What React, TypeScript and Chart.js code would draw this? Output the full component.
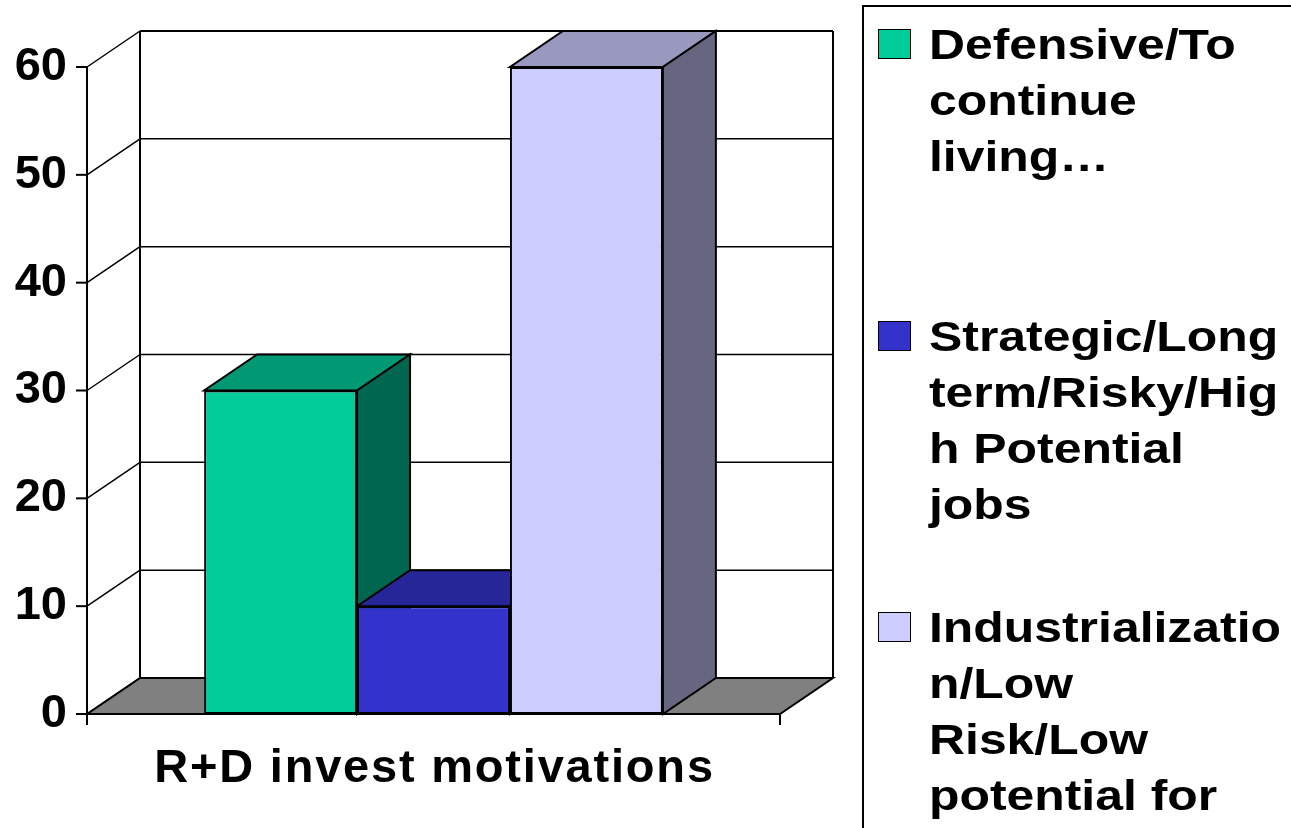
import React, { useEffect, useRef } from "react";
import { Chart, registerables } from "chart.js";

Chart.register(...registerables);

const categories = ["R+D invest motivations"];
const seriesNames = [
  "Defensive/To continue living…",
  "Strategic/Long term/Risky/High Potential jobs",
  "Industrialization/Low Risk/Low potential for",
];
const defensiveValues = [30];
const strategicValues = [10];
const industrialValues = [60];
const yTickValues = [0, 10, 20, 30, 40, 50, 60];

const legendLines = [
  ["Defensive/To", "continue", "living…"],
  ["Strategic/Long", "term/Risky/Hig", "h Potential", "jobs"],
  ["Industrializatio", "n/Low", "Risk/Low", "potential for"],
];

const frontColors = ["#00CC99", "#3333CC", "#CCCCFF"];
const topColors = ["#009973", "#262699", "#9999BF"];
const sideColors = ["#006650", "#1A1A66", "#666680"];

const FONT = '"Liberation Sans", Arial, Helvetica, sans-serif';
const DX = 53;
const DY = 36;

function poly(ctx: CanvasRenderingContext2D, pts: number[][], fill: string | null, lw: number) {
  ctx.beginPath();
  ctx.moveTo(pts[0][0], pts[0][1]);
  for (let i = 1; i < pts.length; i++) ctx.lineTo(pts[i][0], pts[i][1]);
  ctx.closePath();
  if (fill) {
    ctx.fillStyle = fill;
    ctx.fill();
  }
  ctx.lineWidth = lw;
  ctx.strokeStyle = "#000";
  ctx.stroke();
}

function line(ctx: CanvasRenderingContext2D, x1: number, y1: number, x2: number, y2: number, lw: number) {
  ctx.beginPath();
  ctx.moveTo(x1, y1);
  ctx.lineTo(x2, y2);
  ctx.lineWidth = lw;
  ctx.strokeStyle = "#000";
  ctx.stroke();
}

const threeDPlugin = {
  id: "threeD",
  beforeDatasetsDraw(chart: any) {
    const { ctx, chartArea: ca, scales } = chart;
    const ys = scales.y;
    const L = ca.left;
    const R = ca.right;
    const y0 = ys.getPixelForValue(0);
    const yTop = ys.getPixelForValue(ys.max);
    ctx.save();
    ctx.lineJoin = "miter";
    ctx.lineCap = "butt";
    // back wall
    ctx.fillStyle = "#fff";
    ctx.fillRect(L + DX, yTop - DY, R - L, y0 - yTop);
    // floor
    poly(ctx, [[L, y0], [R, y0], [R + DX, y0 - DY], [L + DX, y0 - DY]], "#808080", 2);
    // gridlines
    yTickValues.forEach((v) => {
      const py = ys.getPixelForValue(v);
      if (v > 0) line(ctx, L + DX, py - DY, R + DX, py - DY, v === ys.max ? 2 : 1.5);
      line(ctx, L, py, L + DX, py - DY, 1.5);
      line(ctx, L - 11, py, L, py, 2);
    });
    // vertical edges
    line(ctx, L, yTop, L, y0 + 11, 2);
    line(ctx, L + DX, yTop - DY, L + DX, y0 - DY, 2);
    line(ctx, R + DX, yTop - DY, R + DX, y0 - DY, 2);
    line(ctx, R, y0, R, y0 + 11, 2);
    // bar tops and sides, left to right
    chart.data.datasets.forEach((_ds: any, i: number) => {
      const meta = chart.getDatasetMeta(i);
      meta.data.forEach((el: any) => {
        const { x, y, base, width } = el.getProps(["x", "y", "base", "width"], true);
        const l = x - width / 2;
        const r = x + width / 2;
        poly(ctx, [[l, y], [r, y], [r + DX, y - DY], [l + DX, y - DY]], topColors[i], 2);
        poly(ctx, [[r, y], [r + DX, y - DY], [r + DX, base - DY], [r, base]], sideColors[i], 2);
      });
    });
    ctx.restore();
  },
  afterDraw(chart: any) {
    const { ctx, chartArea: ca, scales } = chart;
    const xs = scales.x;
    ctx.save();
    ctx.font = `bold 47px ${FONT}`;
    (ctx as any).letterSpacing = "1.8px";
    ctx.fillStyle = "#000";
    ctx.textAlign = "center";
    ctx.textBaseline = "alphabetic";
    categories.forEach((c, i) => {
      ctx.fillText(c, xs.getPixelForValue(i) + 1, ca.bottom + 68);
    });
    ctx.restore();
  },
};

export default function App() {
  const canvasRef = useRef<HTMLCanvasElement | null>(null);

  useEffect(() => {
    document.body.style.margin = "0";
    const canvas = canvasRef.current;
    if (!canvas) return;
    const chart = new Chart(canvas, {
      type: "bar",
      data: {
        labels: categories,
        datasets: [
          { label: seriesNames[0], data: defensiveValues, backgroundColor: frontColors[0] },
          { label: seriesNames[1], data: strategicValues, backgroundColor: frontColors[1] },
          { label: seriesNames[2], data: industrialValues, backgroundColor: frontColors[2] },
        ].map((d) => ({
          ...d,
          borderColor: "#000",
          borderWidth: 2,
          borderSkipped: false,
          barPercentage: 1,
          categoryPercentage: 0.662,
        })),
      },
      options: {
        animation: false,
        responsive: false,
        devicePixelRatio: 1,
        layout: { padding: { left: 0, right: 511, top: 67, bottom: 114 } },
        plugins: {
          legend: { display: false },
          tooltip: { enabled: false },
          title: { display: false },
        },
        scales: {
          x: { display: false },
          y: {
            min: 0,
            max: 60,
            ticks: {
              stepSize: 10,
              color: "#000",
              padding: 20,
              font: { family: FONT, size: 47, weight: "bold" },
            },
            grid: { display: false, drawTicks: false },
            border: { display: false },
            afterFit: (s: any) => {
              s.width = 87;
            },
          },
        },
      },
      plugins: [threeDPlugin],
    } as any);
    return () => chart.destroy();
  }, []);

  const itemTops = [16, 308, 599];
  const swatchTops = [29, 321, 612];

  return (
    <div
      style={{
        position: "fixed",
        left: 0,
        top: 0,
        width: 1291,
        height: 828,
        overflow: "hidden",
        background: "#fff",
      }}
    >
      <canvas ref={canvasRef} width={1291} height={828} style={{ position: "absolute", left: 0, top: 0, width: 1291, height: 828 }} />
      <div
        style={{
          position: "absolute",
          left: 862,
          top: 5,
          width: 600,
          height: 1000,
          border: "2px solid #000",
          boxSizing: "border-box",
        }}
      />
      {legendLines.map((lines, i) => (
        <React.Fragment key={i}>
          <div
            style={{
              position: "absolute",
              left: 878,
              top: swatchTops[i],
              width: 33,
              height: 30,
              background: frontColors[i],
              border: "1.5px solid #000",
              boxSizing: "border-box",
            }}
          />
          <div
            style={{
              position: "absolute",
              left: 929,
              top: itemTops[i],
              fontFamily: FONT,
              fontWeight: "bold",
              fontSize: 43,
              lineHeight: "56px",
              color: "#000",
              whiteSpace: "pre",
              transform: "scaleX(1.16)",
              transformOrigin: "left top",
            }}
          >
            {lines.map((t, j) => (
              <div key={j}>{t}</div>
            ))}
          </div>
        </React.Fragment>
      ))}
    </div>
  );
}
